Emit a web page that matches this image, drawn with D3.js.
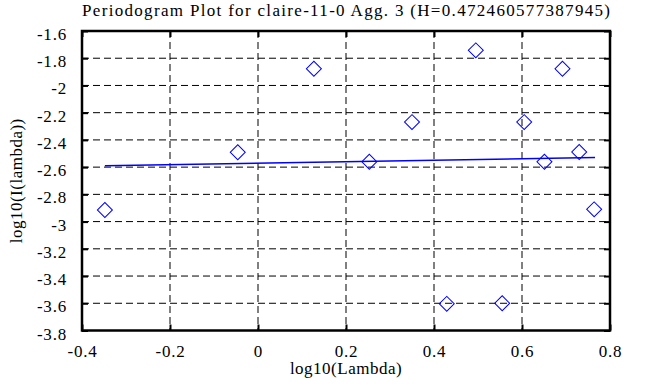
<!DOCTYPE html>
<html>
<head>
<meta charset="utf-8">
<script src="https://cdn.jsdelivr.net/npm/d3@7"></script>
<style>
  body { margin: 0; background: #fff; }
  svg text { font-family: "Liberation Serif", "Times New Roman", serif; fill: #000; }
</style>
</head>
<body>
<script>
// periodogram points (log10 lambda, log10 I(lambda))
var lambdaX = [-0.348, -0.046, 0.127, 0.253, 0.350, 0.429, 0.495, 0.555, 0.605, 0.651, 0.692, 0.730, 0.764];
var periodY = [-2.915, -2.491, -1.877, -2.560, -2.269, -3.604, -1.742, -3.600, -2.269, -2.560, -1.877, -2.489, -2.910];

// fitted line end points
var fitX = [-0.348, 0.766];
var fitY = [-2.590, -2.529];

var xTicks = [-0.4, -0.2, 0, 0.2, 0.4, 0.6, 0.8];
var yTicks = [-3.8, -3.6, -3.4, -3.2, -3, -2.8, -2.6, -2.4, -2.2, -2, -1.8, -1.6];

var title = "Periodogram Plot for claire-11-0 Agg. 3 (H=0.472460577387945)";

var svgWidth = 658, svgHeight = 387;
var margin = { top: 31, right: 48, bottom: 56.5, left: 82 };
var width = svgWidth - margin.left - margin.right;
var height = svgHeight - margin.top - margin.bottom;
var serif = "'Liberation Serif', 'Times New Roman', serif";

var svg = d3.select("body").append("svg")
    .attr("width", svgWidth)
    .attr("height", svgHeight);

var g = svg.append("g")
    .attr("transform", "translate(" + margin.left + "," + margin.top + ")");

var x = d3.scaleLinear().domain([-0.4, 0.8]).range([0, width]);
var y = d3.scaleLinear().domain([-3.8, -1.6]).range([height, 0]);

// grid
g.selectAll(".vgrid").data(xTicks.slice(1, -1)).enter().append("line")
    .attr("x1", d => x(d)).attr("x2", d => x(d))
    .attr("y1", 0).attr("y2", height)
    .attr("stroke", "#000").attr("stroke-width", 1)
    .attr("stroke-dasharray", "7,4");

g.selectAll(".hgrid").data(yTicks.slice(1, -1)).enter().append("line")
    .attr("x1", 0).attr("x2", width)
    .attr("y1", d => y(d)).attr("y2", d => y(d))
    .attr("stroke", "#000").attr("stroke-width", 1)
    .attr("stroke-dasharray", "7,4");

// axes with inward ticks
var fmt = d => String(+d.toFixed(1));

var xAxisB = g.append("g").attr("transform", "translate(0," + height + ")")
    .call(d3.axisBottom(x).tickValues(xTicks).tickSize(-6).tickPadding(14).tickFormat(fmt));
var xAxisT = g.append("g")
    .call(d3.axisTop(x).tickValues(xTicks).tickSize(-6).tickFormat(""));
var yAxisL = g.append("g")
    .call(d3.axisLeft(y).tickValues(yTicks).tickSize(-6).tickPadding(15).tickFormat(fmt));
var yAxisR = g.append("g").attr("transform", "translate(" + width + ",0)")
    .call(d3.axisRight(y).tickValues(yTicks).tickSize(-6).tickFormat(""));

[xAxisB, xAxisT, yAxisL, yAxisR].forEach(function(a) {
    a.attr("font-family", serif).attr("font-size", 17);
    a.select(".domain").remove();
    a.selectAll(".tick line").attr("stroke", "#000").attr("stroke-width", 2);
    a.selectAll(".tick text").style("font-family", serif).style("font-size", "17px")
        .style("letter-spacing", "0.8px");
});
yAxisL.selectAll(".tick text").attr("dy", "0.5em");

// frame
g.append("rect")
    .attr("x", 0).attr("y", 0)
    .attr("width", width).attr("height", height)
    .attr("fill", "none").attr("stroke", "#000").attr("stroke-width", 2.5);

// fitted line
var fitLine = d3.line().x(d => x(d[0])).y(d => y(d[1]));
g.append("path")
    .datum(d3.zip(fitX, fitY))
    .attr("d", fitLine)
    .attr("fill", "none").attr("stroke", "#0000ff").attr("stroke-width", 1.5);

// points
var diamond = d3.symbol().type(d3.symbolSquare).size(112);
g.selectAll(".pt").data(d3.zip(lambdaX, periodY)).enter().append("path")
    .attr("d", diamond)
    .attr("transform", d => "translate(" + x(d[0]) + "," + y(d[1]) + ") rotate(45)")
    .attr("fill", "none").attr("stroke", "#0000ff").attr("stroke-width", 1);

// title and labels
svg.append("text")
    .attr("x", margin.left).attr("y", 16)
    .attr("textLength", width).attr("lengthAdjust", "spacing")
    .style("font-size", "17px")
    .text(title);

svg.append("text")
    .attr("x", margin.left + width / 2).attr("y", 374)
    .attr("text-anchor", "middle").style("font-size", "17px")
    .style("letter-spacing", "0.5px")
    .text("log10(Lambda)");

svg.append("text")
    .attr("transform", "translate(22," + (margin.top + height / 2) + ") rotate(-90)")
    .attr("text-anchor", "middle").style("font-size", "17px")
    .style("letter-spacing", "0.5px")
    .text("log10(I(lambda))");
</script>
</body>
</html>
